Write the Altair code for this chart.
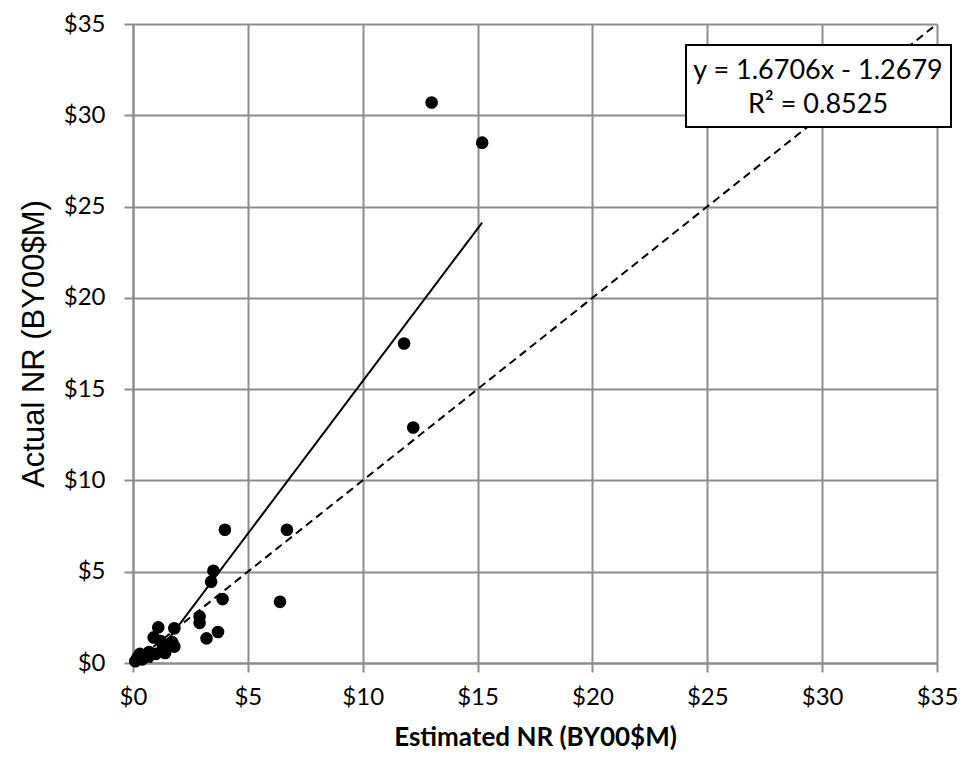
import altair as alt
import pandas as pd

# Data
estimated = [13.0, 15.2, 11.8, 12.2, 4.0, 6.7, 3.5, 3.4, 3.9, 6.4, 2.9, 2.9, 3.2, 3.7,
             1.1, 1.8, 0.9, 1.7, 1.8, 1.3, 1.4, 0.2, 0.3, 0.5, 0.7, 1.0, 0.1, 0.4, 0.6, 1.2]
actual = [30.7, 28.5, 17.5, 12.9, 7.3, 7.3, 5.05, 4.45, 3.5, 3.35, 2.55, 2.2, 1.35, 1.7,
          1.95, 1.9, 1.4, 1.15, 0.9, 0.8, 0.55, 0.3, 0.5, 0.4, 0.6, 0.5, 0.1, 0.2, 0.35, 1.2]

slope = 1.6706
intercept = -1.2679
r2 = 0.8525
axis_ticks = [0, 5, 10, 15, 20, 25, 30, 35]
identity_x = [0, 35]

pts = pd.DataFrame({"est": estimated, "act": actual})
trend = pd.DataFrame({"est": [min(estimated), max(estimated)]})
trend["act"] = slope * trend["est"] + intercept
ident = pd.DataFrame({"est": identity_x, "act": identity_x})

xscale = alt.Scale(domain=[0, 35], nice=False, zero=True)
yscale = alt.Scale(domain=[0, 35], nice=False, zero=True)

common = dict(values=axis_ticks, format="$.0f", grid=True, gridColor="#8c8c8c", gridWidth=2,
              domainColor="#8c8c8c", domainWidth=2, tickColor="#8c8c8c", tickWidth=2,
              tickSize=9, labelFont="Lato", labelFontSize=24, labelColor="black",
              labelFlush=False, titleColor="black")

xaxis = alt.Axis(title="Estimated NR (BY00$M)", labelPadding=13,
                 titleFont="Lato", titleFontSize=26, titleFontWeight="bold",
                 titlePadding=15, **common)
yaxis = alt.Axis(title="Actual NR (BY00$M)", labelPadding=19,
                 titleFont="Liberation Sans", titleFontSize=31, titleFontWeight="normal",
                 titlePadding=13, **common)

base_x = alt.X("est:Q", scale=xscale, axis=xaxis)
base_y = alt.Y("act:Q", scale=yscale, axis=yaxis)

identity_line = alt.Chart(ident).mark_line(color="black", strokeDash=[8, 5], strokeWidth=2).encode(
    x=base_x, y=base_y)
trend_line = alt.Chart(trend).mark_line(color="black", strokeWidth=2, clip=True).encode(
    x="est:Q", y="act:Q")
points = alt.Chart(pts).mark_circle(color="black", opacity=1, size=160).encode(
    x="est:Q", y="act:Q")

box = alt.Chart(pd.DataFrame({"a": [0]})).mark_rect(
    fill="white", stroke="black", strokeWidth=2).encode(
    x=alt.value(553), x2=alt.value(818), y=alt.value(21), y2=alt.value(103))
eq_text = alt.Chart(pd.DataFrame({"t": [f"y = {slope}x - {abs(intercept)}"]})).mark_text(
    font="Lato", fontSize=27, color="black", baseline="middle").encode(
    x=alt.value(685), y=alt.value(47), text="t:N")
r2_text = alt.Chart(pd.DataFrame({"t": [f"R² = {r2}"]})).mark_text(
    font="Lato", fontSize=27, color="black", baseline="middle").encode(
    x=alt.value(685), y=alt.value(81), text="t:N")

chart = alt.layer(identity_line, trend_line, points, box, eq_text, r2_text).properties(
    width=804, height=639,
    autosize=alt.AutoSizeParams(type="none"),
    padding={"left": 125, "top": 16, "right": 22, "bottom": 90},
).configure_view(stroke=None).configure(background="white")

chart.save("out.html", embed_options={"renderer": "svg", "actions": False})
